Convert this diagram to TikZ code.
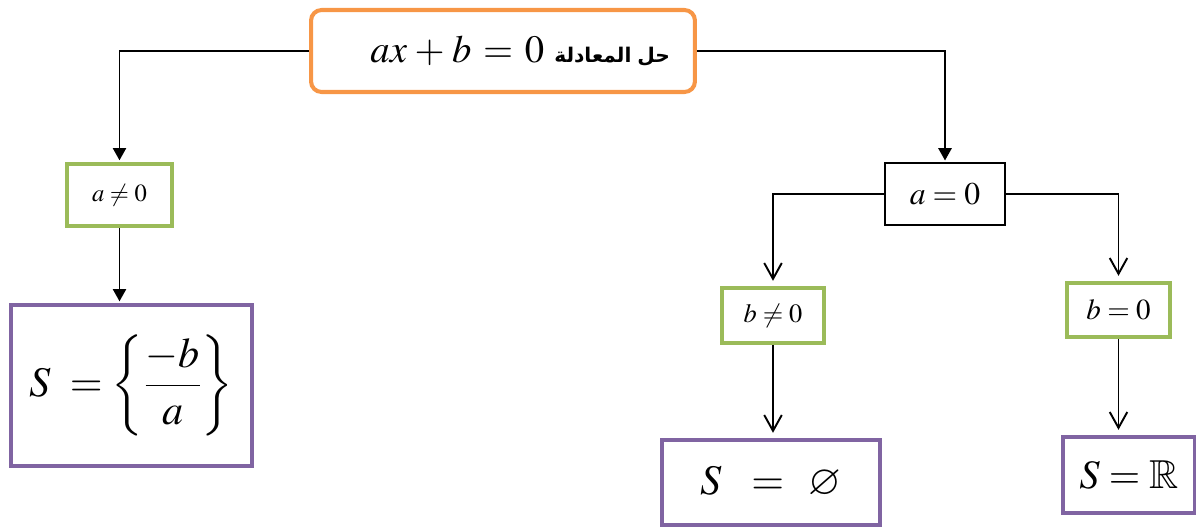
\documentclass[tikz,border=0pt]{standalone}
\usepackage{amsmath}
\usepackage{mathptmx}
\usepackage{amssymb}
\usepackage{fontspec}
\setmainfont{Liberation Serif}
\newfontfamily\arabicfont[Script=Arabic]{DejaVu Sans}
\TeXXeTstate=1
\usetikzlibrary{arrows.meta,positioning}
\definecolor{cTop}{HTML}{F79646}
\definecolor{cCond}{HTML}{9BBB59}
\definecolor{cSol}{HTML}{8064A2}

\begin{document}
\begin{tikzpicture}[
  x=0.02cm,y=-0.02cm,
  top/.style={draw=cTop,line width=2.3pt,rounded corners=6pt,
              minimum height=1.64cm,inner xsep=0.5cm,text width=6.68cm,align=right},
  cnd/.style={draw=cCond,line width=2.2pt,inner sep=0pt},
  sol/.style={draw=cSol,line width=2.2pt,inner sep=0pt},
  fl/.style={-{Triangle[length=7pt,width=7.5pt]},line width=1.1pt,shorten >=1pt},
  fo/.style={-{Straight Barb[length=9pt,width=10pt]},line width=1.1pt,shorten >=3pt},
  ]
  \useasboundingbox (0,0) rectangle (1196,527);

  \node[top] (eq) at (503,51)
    {\fontsize{22}{26}\selectfont$ax+b=0$\hspace{0.2cm}{\arabicfont\bfseries\fontsize{11.5}{14}\selectfont\beginR حل المعادلة\endR}};

  % a /= 0
  \node[cnd,minimum width=2.1cm,minimum height=1.24cm] (ane) at (119.5,195)
    {\fontsize{14}{16}\selectfont$a\neq0$};
  \node[sol,minimum width=4.82cm,minimum height=3.22cm] (sl) at (131.5,385.5)
    {\fontsize{24}{28}\selectfont$S\;=\left\{\dfrac{-b}{a}\right\}$\hspace{0.5cm}};

  % a = 0
  \node[draw,line width=0.85pt,minimum width=2.4cm,minimum height=1.24cm] (aeq) at (945,194)
    {\fontsize{18}{21}\selectfont$a=0$};
  \node[cnd,minimum width=2.04cm,minimum height=1.1cm] (bne) at (773,315.5)
    {\fontsize{15}{18}\selectfont$b\neq0$};
  \node[cnd,minimum width=2.06cm,minimum height=1.08cm] (beq) at (1118.5,310)
    {\fontsize{16.5}{19}\selectfont$b=0$};
  \node[sol,minimum width=4.36cm,minimum height=1.7cm] (se) at (771,482.5)
    {\fontsize{24}{28}\selectfont$S\ \;=\ \,\varnothing$};
  \node[sol,minimum width=2.64cm,minimum height=1.52cm] (sr) at (1129,475)
    {\fontsize{23}{27}\selectfont$S=\mathbb{R}$};

  \draw[fl] (eq.west) -| (ane.north);
  \draw[fl] (eq.east) -| (aeq.north);
  \draw[fl] (ane.south) -- (ane.south |- sl.north);
  \draw[fo] (aeq.west) -| (bne.north);
  \draw[fo] (aeq.east) -| (beq.north);
  \draw[fo] (bne.south) -- (bne.south |- se.north);
  \draw[fo] (beq.south) -- (beq.south |- sr.north);
\end{tikzpicture}
\end{document}
